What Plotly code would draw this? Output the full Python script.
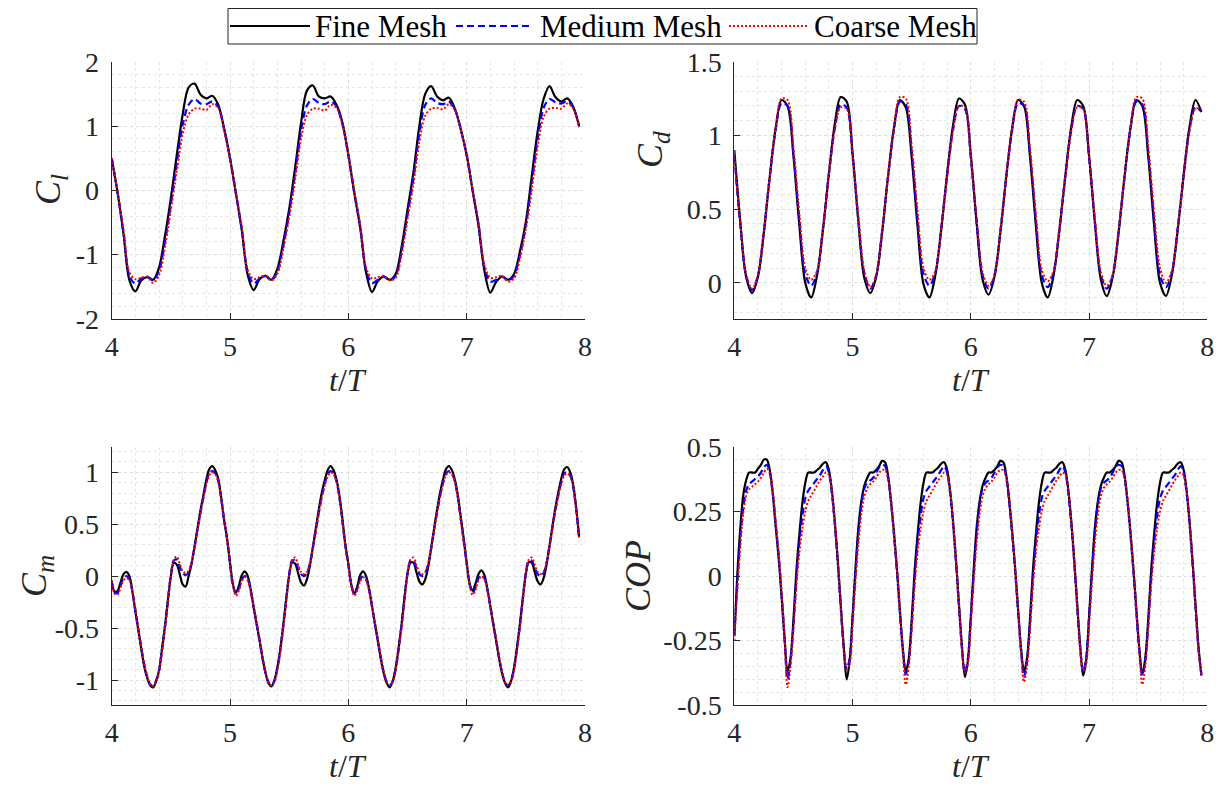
import plotly.graph_objects as go

# ---------------- time grids ----------------
t_cl = [round(4 + 0.05 * i, 3) for i in range(80)]      # 4.00 .. 7.95
t_cd = t_cl
t_cm = [round(4 + 0.025 * i, 3) for i in range(159)]    # 4.000 .. 7.950
t_cop = t_cm

# ---------------- C_l ----------------
cl_fine = [0.50, -0.04, -0.68, -1.40, -1.57, -1.40, -1.35, -1.39, -1.20, -0.71, -0.12, 0.55, 1.18, 1.60, 1.66, 1.49, 1.43, 1.47, 1.33, 0.96,
           0.50, -0.05, -0.63, -1.32, -1.55, -1.38, -1.33, -1.39, -1.22, -0.80, -0.29, 0.35, 1.05, 1.55, 1.63, 1.46, 1.43, 1.46, 1.33, 1.05,
           0.55, -0.04, -0.58, -1.28, -1.58, -1.41, -1.34, -1.39, -1.30, -0.88, -0.30, 0.28, 1.00, 1.50, 1.62, 1.46, 1.40, 1.44, 1.27, 0.95,
           0.55, 0.00, -0.55, -1.25, -1.59, -1.42, -1.34, -1.39, -1.30, -0.95, -0.49, 0.22, 0.92, 1.42, 1.62, 1.45, 1.38, 1.43, 1.30, 1.00]
cl_medium = [0.50, -0.04, -0.66, -1.33, -1.45, -1.37, -1.34, -1.40, -1.25, -0.80, -0.22, 0.42, 1.02, 1.33, 1.42, 1.35, 1.34, 1.38, 1.30, 0.95,
             0.50, -0.05, -0.61, -1.27, -1.45, -1.37, -1.33, -1.40, -1.26, -0.86, -0.36, 0.26, 0.92, 1.32, 1.42, 1.36, 1.34, 1.38, 1.31, 1.03,
             0.55, -0.03, -0.56, -1.24, -1.44, -1.39, -1.34, -1.40, -1.33, -0.94, -0.38, 0.18, 0.88, 1.33, 1.43, 1.36, 1.34, 1.38, 1.26, 0.95,
             0.55, 0.00, -0.53, -1.20, -1.42, -1.39, -1.34, -1.40, -1.33, -1.00, -0.55, 0.12, 0.80, 1.28, 1.42, 1.37, 1.35, 1.39, 1.29, 1.00]
cl_coarse = [0.50, -0.03, -0.62, -1.28, -1.38, -1.36, -1.34, -1.44, -1.32, -0.88, -0.30, 0.30, 0.88, 1.18, 1.27, 1.27, 1.25, 1.34, 1.28, 0.93,
             0.50, -0.04, -0.58, -1.24, -1.38, -1.35, -1.33, -1.40, -1.30, -0.92, -0.42, 0.16, 0.80, 1.17, 1.27, 1.27, 1.24, 1.33, 1.28, 1.02,
             0.55, -0.01, -0.53, -1.20, -1.37, -1.35, -1.33, -1.40, -1.36, -1.00, -0.45, 0.10, 0.75, 1.16, 1.27, 1.28, 1.26, 1.34, 1.25, 0.94,
             0.55, 0.01, -0.50, -1.16, -1.36, -1.35, -1.33, -1.42, -1.37, -1.06, -0.60, 0.00, 0.68, 1.14, 1.27, 1.28, 1.27, 1.35, 1.27, 0.98]

# ---------------- C_d ----------------
cd_fine = [0.90, 0.42, 0.04, -0.07, 0.04, 0.34, 0.72, 1.05, 1.24, 1.20, 0.86, 0.39, 0.00, -0.10, 0.05, 0.36, 0.74, 1.08, 1.26, 1.23,
           0.88, 0.41, 0.03, -0.07, 0.04, 0.34, 0.72, 1.05, 1.24, 1.19, 0.85, 0.38, -0.01, -0.10, 0.05, 0.36, 0.74, 1.07, 1.25, 1.21,
           0.87, 0.40, 0.02, -0.08, 0.04, 0.34, 0.72, 1.05, 1.24, 1.20, 0.86, 0.39, 0.00, -0.10, 0.05, 0.36, 0.73, 1.06, 1.24, 1.20,
           0.86, 0.40, 0.02, -0.09, 0.04, 0.34, 0.72, 1.05, 1.24, 1.20, 0.86, 0.39, 0.00, -0.09, 0.05, 0.36, 0.73, 1.06, 1.24, 1.16]
cd_medium = [0.86, 0.40, 0.05, -0.05, 0.05, 0.35, 0.72, 1.04, 1.22, 1.20, 0.88, 0.43, 0.06, -0.02, 0.07, 0.37, 0.74, 1.05, 1.21, 1.19,
             0.86, 0.42, 0.06, -0.04, 0.05, 0.35, 0.72, 1.04, 1.23, 1.21, 0.89, 0.43, 0.06, -0.02, 0.07, 0.37, 0.73, 1.04, 1.20, 1.18,
             0.85, 0.41, 0.05, -0.04, 0.05, 0.35, 0.72, 1.04, 1.22, 1.20, 0.88, 0.43, 0.05, -0.03, 0.07, 0.37, 0.73, 1.04, 1.20, 1.18,
             0.85, 0.41, 0.05, -0.04, 0.05, 0.35, 0.72, 1.04, 1.23, 1.21, 0.89, 0.43, 0.05, -0.03, 0.07, 0.37, 0.73, 1.04, 1.19, 1.16]
cd_coarse = [0.85, 0.42, 0.06, -0.04, 0.05, 0.35, 0.72, 1.05, 1.25, 1.24, 0.92, 0.47, 0.10, 0.02, 0.08, 0.37, 0.73, 1.04, 1.19, 1.18,
             0.86, 0.44, 0.08, -0.03, 0.05, 0.35, 0.72, 1.05, 1.26, 1.25, 0.93, 0.48, 0.10, 0.02, 0.08, 0.37, 0.72, 1.03, 1.20, 1.19,
             0.86, 0.43, 0.07, -0.02, 0.05, 0.35, 0.72, 1.05, 1.24, 1.23, 0.92, 0.47, 0.09, 0.01, 0.08, 0.37, 0.72, 1.03, 1.19, 1.18,
             0.86, 0.43, 0.07, -0.02, 0.05, 0.35, 0.72, 1.05, 1.26, 1.25, 0.93, 0.48, 0.10, 0.00, 0.08, 0.37, 0.72, 1.03, 1.18, 1.18]

# ---------------- C_m ----------------
cm_fine = [-0.04, -0.15, -0.14, -0.06, 0.02, 0.04, 0.00, -0.15, -0.34, -0.52, -0.70, -0.87, -0.98, -1.05, -1.07, -1.01, -0.91, -0.70, -0.48, -0.23,
           0.00, 0.13, 0.11, 0.02, -0.08, -0.10, 0.00, 0.12, 0.28, 0.46, 0.63, 0.78, 0.93, 1.03, 1.06, 1.02, 0.94, 0.76, 0.54, 0.36,
           0.13, -0.08, -0.16, -0.09, 0.01, 0.045, 0.00, -0.13, -0.30, -0.46, -0.62, -0.79, -0.93, -1.03, -1.06, -1.00, -0.88, -0.70, -0.47, -0.22,
           0.01, 0.13, 0.12, 0.03, -0.06, -0.09, -0.03, 0.10, 0.28, 0.46, 0.64, 0.80, 0.92, 1.02, 1.06, 1.02, 0.93, 0.77, 0.55, 0.30,
           0.12, -0.08, -0.17, -0.10, 0.01, 0.045, 0.00, -0.12, -0.29, -0.46, -0.63, -0.80, -0.94, -1.03, -1.07, -1.01, -0.88, -0.69, -0.46, -0.20,
           0.02, 0.13, 0.13, 0.04, -0.05, -0.08, -0.03, 0.09, 0.27, 0.46, 0.64, 0.80, 0.93, 1.03, 1.06, 1.02, 0.93, 0.78, 0.57, 0.36,
           0.13, -0.07, -0.14, -0.07, 0.02, 0.055, 0.01, -0.12, -0.29, -0.46, -0.63, -0.80, -0.94, -1.03, -1.07, -1.01, -0.88, -0.69, -0.46, -0.21,
           0.02, 0.135, 0.13, 0.04, -0.05, -0.08, -0.02, 0.11, 0.29, 0.48, 0.66, 0.81, 0.94, 1.03, 1.05, 1.00, 0.88, 0.66, 0.38]
cm_medium = [-0.05, -0.16, -0.16, -0.09, -0.02, 0.00, -0.03, -0.15, -0.33, -0.51, -0.69, -0.85, -0.97, -1.04, -1.06, -1.01, -0.91, -0.71, -0.49, -0.24,
             0.01, 0.15, 0.16, 0.09, 0.03, 0.01, 0.04, 0.13, 0.28, 0.45, 0.61, 0.76, 0.90, 0.99, 1.01, 0.99, 0.92, 0.75, 0.54, 0.36,
             0.12, -0.09, -0.17, -0.12, -0.03, 0.00, -0.03, -0.14, -0.30, -0.46, -0.62, -0.79, -0.93, -1.02, -1.05, -1.01, -0.89, -0.71, -0.48, -0.22,
             0.02, 0.15, 0.15, 0.08, 0.02, 0.00, 0.03, 0.12, 0.27, 0.44, 0.61, 0.76, 0.89, 0.98, 1.01, 0.99, 0.91, 0.75, 0.53, 0.29,
             0.11, -0.09, -0.17, -0.12, -0.03, 0.00, -0.03, -0.13, -0.29, -0.46, -0.62, -0.79, -0.93, -1.02, -1.05, -1.01, -0.89, -0.70, -0.47, -0.21,
             0.03, 0.15, 0.15, 0.08, 0.02, 0.00, 0.03, 0.12, 0.27, 0.45, 0.62, 0.77, 0.90, 0.99, 1.01, 0.99, 0.91, 0.76, 0.55, 0.34,
             0.12, -0.08, -0.16, -0.11, -0.02, 0.01, -0.02, -0.13, -0.29, -0.46, -0.62, -0.79, -0.93, -1.02, -1.05, -1.01, -0.89, -0.70, -0.47, -0.21,
             0.03, 0.15, 0.15, 0.08, 0.02, 0.00, 0.03, 0.13, 0.29, 0.47, 0.64, 0.78, 0.91, 0.99, 1.00, 0.97, 0.86, 0.65, 0.37]
cm_coarse = [-0.05, -0.17, -0.18, -0.11, -0.04, -0.02, -0.04, -0.15, -0.32, -0.50, -0.68, -0.84, -0.96, -1.04, -1.06, -1.02, -0.92, -0.73, -0.51, -0.26,
             0.00, 0.16, 0.19, 0.12, 0.05, 0.03, 0.05, 0.13, 0.27, 0.44, 0.60, 0.75, 0.88, 0.97, 1.00, 0.98, 0.91, 0.75, 0.54, 0.36,
             0.12, -0.09, -0.19, -0.14, -0.05, -0.01, -0.04, -0.15, -0.30, -0.45, -0.61, -0.78, -0.92, -1.02, -1.05, -1.02, -0.91, -0.73, -0.50, -0.25,
             0.01, 0.16, 0.18, 0.11, 0.04, 0.02, 0.04, 0.12, 0.26, 0.43, 0.60, 0.75, 0.87, 0.96, 1.00, 0.98, 0.91, 0.75, 0.52, 0.28,
             0.11, -0.09, -0.19, -0.14, -0.05, -0.01, -0.04, -0.14, -0.29, -0.45, -0.61, -0.78, -0.92, -1.02, -1.05, -1.02, -0.91, -0.72, -0.49, -0.24,
             0.02, 0.16, 0.18, 0.11, 0.04, 0.02, 0.04, 0.12, 0.26, 0.44, 0.61, 0.76, 0.88, 0.97, 1.00, 0.98, 0.91, 0.76, 0.54, 0.33,
             0.12, -0.08, -0.18, -0.13, -0.04, 0.00, -0.03, -0.14, -0.29, -0.45, -0.61, -0.78, -0.92, -1.02, -1.05, -1.02, -0.91, -0.72, -0.49, -0.24,
             0.02, 0.16, 0.18, 0.11, 0.04, 0.02, 0.04, 0.13, 0.28, 0.46, 0.63, 0.77, 0.89, 0.97, 0.99, 0.96, 0.86, 0.65, 0.37]

# ---------------- COP ----------------
cop_fine = [-0.23, 0.00, 0.18, 0.31, 0.37, 0.40, 0.40, 0.40, 0.415, 0.43, 0.45, 0.45, 0.41, 0.32, 0.19, 0.07, -0.08, -0.24,
            -0.37, -0.32, -0.17, 0.02, 0.16, 0.28, 0.36, 0.40, 0.40, 0.40, 0.41, 0.42, 0.435, 0.44, 0.41, 0.33, 0.21, 0.06, -0.11, -0.27,
            -0.40, -0.33, -0.16, 0.03, 0.19, 0.29, 0.35, 0.38, 0.40, 0.40, 0.41, 0.425, 0.445, 0.44, 0.39, 0.29, 0.17, 0.03, -0.13, -0.28,
            -0.37, -0.32, -0.17, 0.02, 0.16, 0.28, 0.36, 0.40, 0.40, 0.40, 0.41, 0.42, 0.435, 0.44, 0.41, 0.33, 0.21, 0.06, -0.11, -0.27,
            -0.39, -0.33, -0.16, 0.03, 0.19, 0.29, 0.35, 0.38, 0.40, 0.40, 0.41, 0.425, 0.445, 0.44, 0.39, 0.29, 0.17, 0.03, -0.13, -0.28,
            -0.37, -0.32, -0.17, 0.02, 0.16, 0.28, 0.36, 0.40, 0.40, 0.40, 0.41, 0.42, 0.435, 0.44, 0.41, 0.33, 0.21, 0.06, -0.11, -0.27,
            -0.385, -0.33, -0.16, 0.03, 0.19, 0.29, 0.35, 0.38, 0.40, 0.40, 0.41, 0.425, 0.445, 0.44, 0.39, 0.29, 0.17, 0.03, -0.13, -0.28,
            -0.38, -0.32, -0.17, 0.02, 0.16, 0.28, 0.36, 0.40, 0.40, 0.40, 0.41, 0.42, 0.435, 0.44, 0.41, 0.33, 0.21, 0.06, -0.11, -0.27,
            -0.385]
cop_medium = [-0.23, -0.03, 0.14, 0.26, 0.33, 0.355, 0.365, 0.375, 0.385, 0.40, 0.42, 0.43, 0.40, 0.32, 0.20, 0.08, -0.07, -0.24,
              -0.40, -0.33, -0.19, -0.01, 0.13, 0.23, 0.30, 0.33, 0.345, 0.36, 0.375, 0.39, 0.41, 0.425, 0.40, 0.32, 0.20, 0.05, -0.12, -0.28,
              -0.36, -0.32, -0.16, 0.01, 0.17, 0.28, 0.34, 0.36, 0.37, 0.38, 0.40, 0.42, 0.43, 0.425, 0.38, 0.29, 0.16, 0.02, -0.14, -0.29,
              -0.38, -0.33, -0.19, -0.01, 0.13, 0.23, 0.30, 0.33, 0.345, 0.36, 0.375, 0.39, 0.41, 0.425, 0.40, 0.32, 0.20, 0.05, -0.12, -0.28,
              -0.375, -0.32, -0.16, 0.01, 0.17, 0.28, 0.34, 0.36, 0.37, 0.38, 0.40, 0.42, 0.43, 0.425, 0.38, 0.29, 0.16, 0.02, -0.14, -0.29,
              -0.39, -0.33, -0.19, -0.01, 0.13, 0.23, 0.30, 0.33, 0.345, 0.36, 0.375, 0.39, 0.41, 0.425, 0.40, 0.32, 0.20, 0.05, -0.12, -0.28,
              -0.37, -0.32, -0.16, 0.01, 0.17, 0.28, 0.34, 0.36, 0.37, 0.38, 0.40, 0.42, 0.43, 0.425, 0.38, 0.29, 0.16, 0.02, -0.14, -0.29,
              -0.385, -0.33, -0.19, -0.01, 0.13, 0.23, 0.30, 0.33, 0.345, 0.36, 0.375, 0.39, 0.41, 0.425, 0.40, 0.32, 0.20, 0.05, -0.12, -0.28,
              -0.38]
cop_coarse = [-0.25, -0.06, 0.11, 0.24, 0.31, 0.335, 0.345, 0.355, 0.365, 0.38, 0.40, 0.415, 0.40, 0.33, 0.21, 0.09, -0.06, -0.23,
              -0.43, -0.35, -0.21, -0.04, 0.09, 0.18, 0.25, 0.29, 0.31, 0.33, 0.35, 0.37, 0.385, 0.40, 0.39, 0.33, 0.21, 0.06, -0.11, -0.28,
              -0.36, -0.34, -0.19, -0.02, 0.13, 0.24, 0.31, 0.34, 0.355, 0.365, 0.38, 0.40, 0.41, 0.41, 0.38, 0.30, 0.17, 0.03, -0.13, -0.29,
              -0.42, -0.35, -0.21, -0.04, 0.09, 0.18, 0.25, 0.29, 0.31, 0.33, 0.35, 0.37, 0.385, 0.40, 0.39, 0.33, 0.21, 0.06, -0.11, -0.28,
              -0.375, -0.34, -0.19, -0.02, 0.13, 0.24, 0.31, 0.34, 0.355, 0.365, 0.38, 0.40, 0.41, 0.41, 0.38, 0.30, 0.17, 0.03, -0.13, -0.29,
              -0.41, -0.35, -0.21, -0.04, 0.09, 0.18, 0.25, 0.29, 0.31, 0.33, 0.35, 0.37, 0.385, 0.40, 0.39, 0.33, 0.21, 0.06, -0.11, -0.28,
              -0.365, -0.34, -0.19, -0.02, 0.13, 0.24, 0.31, 0.34, 0.355, 0.365, 0.38, 0.40, 0.41, 0.41, 0.38, 0.30, 0.17, 0.03, -0.13, -0.29,
              -0.42, -0.35, -0.21, -0.04, 0.09, 0.18, 0.25, 0.29, 0.31, 0.33, 0.35, 0.37, 0.385, 0.40, 0.39, 0.33, 0.21, 0.06, -0.11, -0.28,
              -0.38]

series_names = ["Fine Mesh", "Medium Mesh", "Coarse Mesh"]
x_ticks = [4, 5, 6, 7, 8]
x_tick_text = ["4", "5", "6", "7", "8"]

cl_ticks = [-2, -1, 0, 1, 2]
cl_tick_text = ["-2", "-1", "0", "1", "2"]
cd_ticks = [0, 0.5, 1, 1.5]
cd_tick_text = ["0", "0.5", "1", "1.5"]
cm_ticks = [-1, -0.5, 0, 0.5, 1]
cm_tick_text = ["-1", "-0.5", "0", "0.5", "1"]
cop_ticks = [-0.5, -0.25, 0, 0.25, 0.5]
cop_tick_text = ["-0.5", "-0.25", "0", "0.25", "0.5"]

# ---------------- styling ----------------
PAGE_W, PAGE_H = 1225, 792
BODY = 8                      # default <body> margin of the html page
W, H = PAGE_W - 2 * BODY, PAGE_H - 2 * BODY
SERIF = "Liberation Serif"
AXC = "#262626"
GRID = "#dcdcdc"
MGRID = "#e6e6e6"
styles = [dict(color="#000000", width=2.2, dash="solid"),
          dict(color="#0000ff", width=2.2, dash="7px,4px"),
          dict(color="#ff0000", width=2.0, dash="2px,2px")]


def fx(p):
    return (p - BODY) / W


def fy(p):
    return 1 - (p - BODY) / H


panels = [
    dict(t=t_cl, data=[cl_fine, cl_medium, cl_coarse], box=(111.7, 585.0, 61.7, 319.0), yr=[-2, 2],
         tv=cl_ticks, tt=cl_tick_text, ydt=0.2, ytitle="<i>C</i><sub><i>l</i></sub>", yt_pos=(50, 190),
         xt_pos=(348, 380)),
    dict(t=t_cd, data=[cd_fine, cd_medium, cd_coarse], box=(734.3, 1207.3, 61.7, 319.0), yr=[-0.246, 1.5],
         tv=cd_ticks, tt=cd_tick_text, ydt=0.1, ytitle="<i>C</i><sub><i>d</i></sub>", yt_pos=(652, 150),
         xt_pos=(971, 380)),
    dict(t=t_cm, data=[cm_fine, cm_medium, cm_coarse], box=(111.7, 585.0, 447.3, 705.0), yr=[-1.24, 1.24],
         tv=cm_ticks, tt=cm_tick_text, ydt=0.1, ytitle="<i>C</i><sub><i>m</i></sub>", yt_pos=(36, 576),
         xt_pos=(348, 766)),
    dict(t=t_cop, data=[cop_fine, cop_medium, cop_coarse], box=(734.3, 1207.3, 446.7, 705.3), yr=[-0.5, 0.5],
         tv=cop_ticks, tt=cop_tick_text, ydt=0.05, ytitle="<i>COP</i>", yt_pos=(638, 576),
         xt_pos=(971, 766)),
]

fig = go.Figure()
layout = dict(width=W, height=H, margin=dict(l=0, r=0, t=0, b=0, pad=0, autoexpand=False),
              paper_bgcolor="white", plot_bgcolor="white", showlegend=False,
              font=dict(family=SERIF, color=AXC, size=28))
annotations = []
shapes = []

for i, p in enumerate(panels):
    k = "" if i == 0 else str(i + 1)
    x0, x1, y0, y1 = p["box"]
    for j, (vals, st) in enumerate(zip(p["data"], styles)):
        fig.add_trace(go.Scatter(
            x=p["t"], y=vals, mode="lines", name=series_names[j],
            line=dict(color=st["color"], width=st["width"], dash=st["dash"], shape="spline", smoothing=0.9),
            xaxis="x" + k, yaxis="y" + k, showlegend=False))
    common = dict(showline=True, linecolor=AXC, linewidth=1, ticks="inside", ticklen=6, tickcolor=AXC,
                  tickwidth=1, showgrid=True, gridcolor=GRID, griddash="dot", gridwidth=1, zeroline=False,
                  mirror=False, automargin=False, tickfont=dict(family=SERIF, size=28, color=AXC))
    layout["xaxis" + k] = dict(common, domain=[fx(x0), fx(x1)], range=[4, 8], anchor="y" + k,
                               tickvals=x_ticks, ticktext=x_tick_text, ticklabelstandoff=2,
                               minor=dict(tick0=4, dtick=0.2, showgrid=True, gridcolor=MGRID, griddash="dot",
                                          ticks=""))
    layout["yaxis" + k] = dict(common, domain=[fy(y1), fy(y0)], range=p["yr"], anchor="x" + k,
                               tickvals=p["tv"], ticktext=p["tt"], ticklabelstandoff=6,
                               minor=dict(tick0=0, dtick=p["ydt"], showgrid=True, gridcolor=MGRID, griddash="dot",
                                          ticks=""))
    annotations.append(dict(text=p["ytitle"], x=fx(p["yt_pos"][0]), y=fy(p["yt_pos"][1]), xref="paper",
                            yref="paper", showarrow=False, textangle=-90, xanchor="center", yanchor="middle",
                            font=dict(family=SERIF, size=36, color=AXC)))
    annotations.append(dict(text="<i>t</i>/<i>T</i>", x=fx(p["xt_pos"][0]), y=fy(p["xt_pos"][1]), xref="paper",
                            yref="paper", showarrow=False, xanchor="center", yanchor="middle",
                            font=dict(family=SERIF, size=32, color=AXC)))

# ---------------- legend box (top centre) ----------------
leg_box = (228, 977, 8.5, 44)
leg_y = 26
leg_samples = [(230, 310), (456, 529), (729, 807)]
leg_text_x = [313, 538, 812]
shapes.append(dict(type="rect", xref="paper", yref="paper", x0=fx(leg_box[0]), x1=fx(leg_box[1]),
                   y0=fy(leg_box[3]), y1=fy(leg_box[2]), line=dict(color=AXC, width=1), fillcolor="white",
                   layer="above"))
for (sx0, sx1), tx, name, st in zip(leg_samples, leg_text_x, series_names, styles):
    shapes.append(dict(type="line", xref="paper", yref="paper", x0=fx(sx0), x1=fx(sx1), y0=fy(leg_y),
                       y1=fy(leg_y), line=dict(color=st["color"], width=st["width"], dash=st["dash"]),
                       layer="above"))
    annotations.append(dict(text=name, x=fx(tx), y=fy(leg_y), xref="paper", yref="paper", showarrow=False,
                            xanchor="left", yanchor="middle", font=dict(family=SERIF, size=31, color="#000000")))

layout["annotations"] = annotations
layout["shapes"] = shapes
fig.update_layout(**layout)
fig.write_html("out.html")
